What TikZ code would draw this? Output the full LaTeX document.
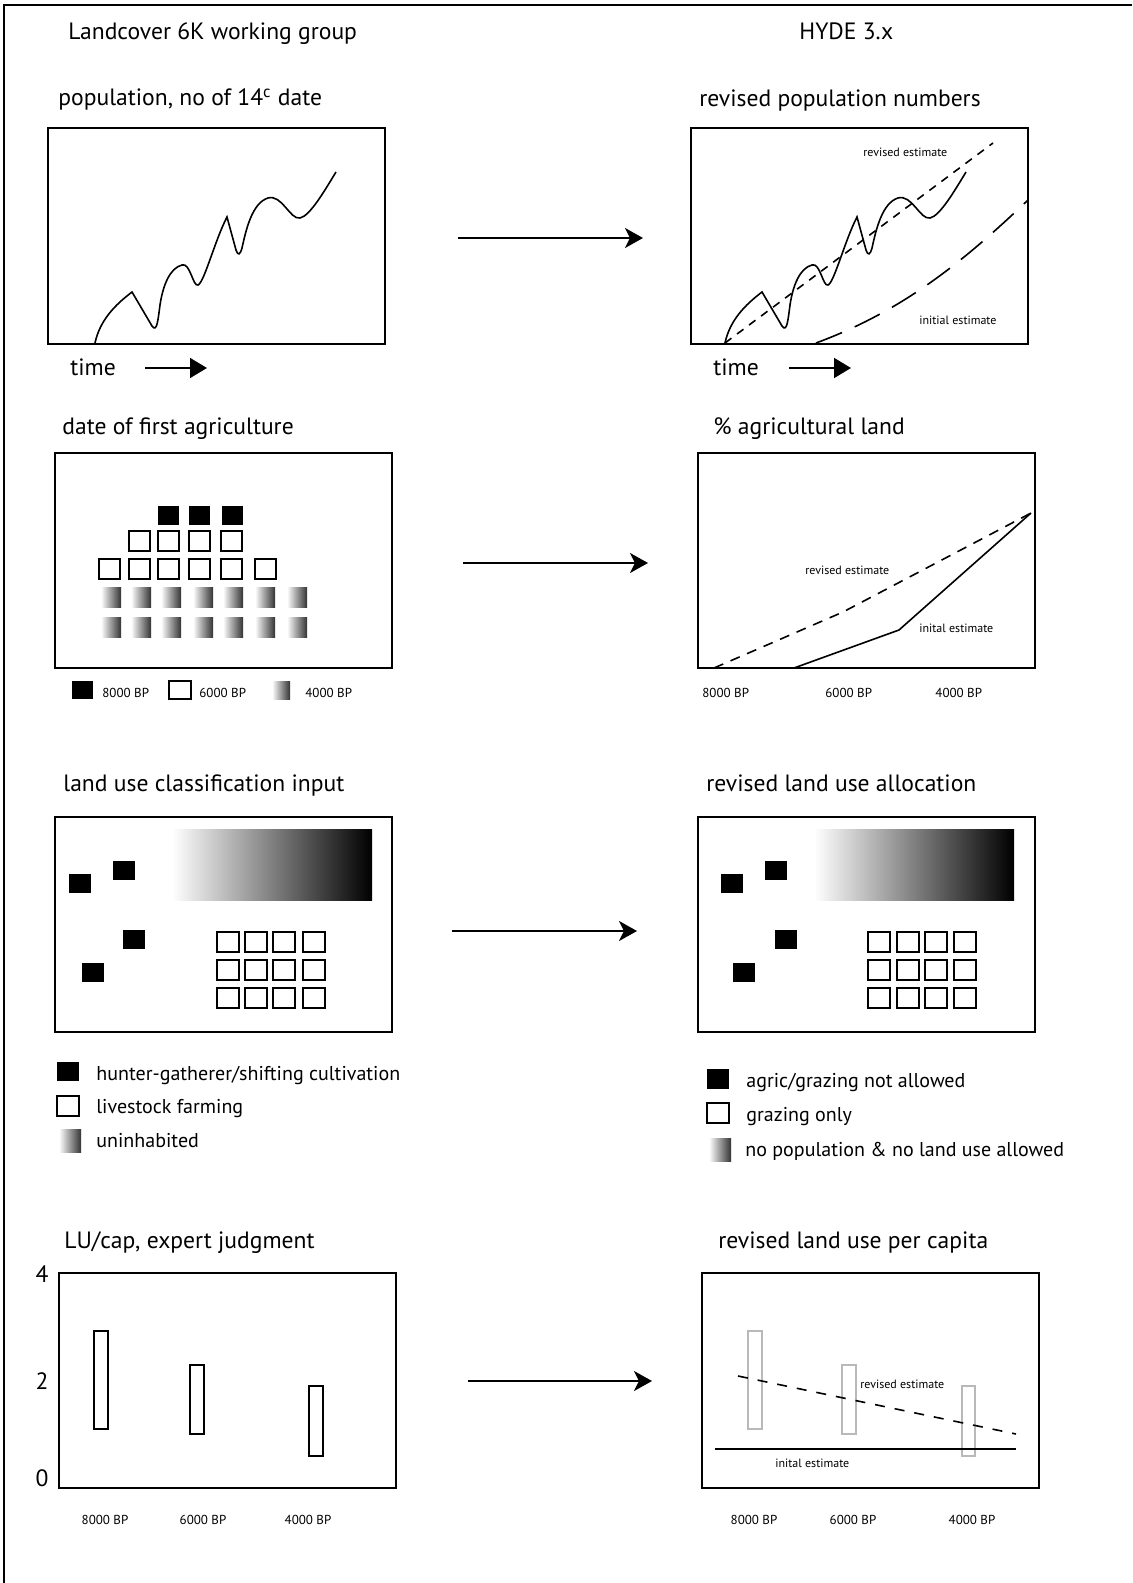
\documentclass[tikz,border=0pt]{standalone}
\usepackage{fontspec}
\setmainfont{PT Sans}
\usetikzlibrary{arrows.meta}

\tikzset{
  panel/.style={line width=1pt},
  popline/.style={line width=0.8pt},
  ttl/.style={anchor=base west, inner sep=0pt, font=\fontsize{11.8}{13}\selectfont},
  leg/.style={anchor=base west, inner sep=0pt, font=\fontsize{10}{12}\selectfont},
  note/.style={anchor=base west, inner sep=0pt, font=\fontsize{6}{7}\selectfont},
  bp/.style={anchor=base, inner sep=0pt, font=\fontsize{6.5}{8}\selectfont},
  big/.style={line width=1pt, -{Stealth[length=9pt,width=10pt,inset=2.5pt]}},
  timearrow/.style={line width=0.8pt, -{Triangle[length=8.5pt,width=10pt]}},
  blk/.style={fill=black},
  opn/.style={draw=black, line width=0.9pt},
  grad/.style={left color=white, right color=black!80},
  popcurve/.pic={
    \draw[popline] (95,343) .. controls (100,320) and (115,305) .. (132,292)
      -- (152,326) .. controls (157,333) and (158,320) .. (160,305)
      .. controls (163,285) and (170,268) .. (182,265)
      .. controls (190,262) and (193,287) .. (198,285)
      .. controls (204,283) and (215,240) .. (227,217)
      -- (236,250) .. controls (238,256) and (240,255) .. (242,248)
      .. controls (246,230) and (252,203) .. (268,198)
      .. controls (282,194) and (290,220) .. (300,218)
      .. controls (310,216) and (325,190) .. (336,172);
  }
}

\begin{document}
\begin{tikzpicture}[x=0.5pt,y=-0.5pt]
  \useasboundingbox (0,0) rectangle (1132,1583);
  \draw[line width=1.2pt] (4,1583) -- (4,5) -- (1132,5);

  \node[ttl] (lc) at (68,40) {Landcover 6K working group};
  \node[ttl] (hyde) at (799,40) {HYDE 3.x};

  % population
  \node[ttl] (pop) at (58,106) {population, no of 14\textsuperscript{c} date};
  \draw[panel] (48,128) rectangle (385,344);
  \pic at (0,0) {popcurve};
  \node[ttl] (time1) at (70,375) {time};
  \coordinate (t1a) at (145,368);
  \coordinate (t1b) at (207,368);
  \draw[timearrow] (t1a) -- (t1b);

  \coordinate (a1s) at (458,238);
  \coordinate (a1e) at (643,238);
  \draw[big] (a1s) -- (a1e);

  \node[ttl] (revpop) at (699,107) {revised population numbers};
  \draw[panel] (691,128) rectangle (1028,344);
  \pic at (630,0) {popcurve};
  \draw[popline, dash pattern=on 4pt off 3.5pt] (725,343) -- (993,143);
  \draw[popline, dash pattern=on 14pt off 7pt] (816,343) .. controls (900,312) and (960,265) .. (1028,200);
  \node[note] (rev1) at (863,157) {revised estimate};
  \node[note] (ini1) at (919,325) {initial estimate};
  \node[ttl] (time2) at (713,375) {time};
  \coordinate (t2a) at (789,368);
  \coordinate (t2b) at (851,368);
  \draw[timearrow] (t2a) -- (t2b);

  % first agriculture
  \node[ttl] (agri) at (62,434) {date of first agriculture};
  \draw[panel] (55,453) rectangle (392,668);
  \foreach \x in {158,189,222}
    \fill[blk] (\x,506) rectangle ++(21,19);
  \foreach \x in {129,158,189,221}
    \draw[opn] (\x,531) rectangle ++(21,20);
  \foreach \x in {99,129,158,189,221,255}
    \draw[opn] (\x,559) rectangle ++(21,20);
  \foreach \x in {101,131,161,193,223,255,287} {
    \shade[grad] (\x,587) rectangle ++(20,20);
    \shade[grad] (\x,617) rectangle ++(20,20);
  }
  \fill[blk] (72,681) rectangle (93,699);
  \node[bp, anchor=base west] (k8) at (102,697) {8000 BP};
  \draw[opn] (169,681) rectangle (191,699);
  \node[bp, anchor=base west] (k6) at (199,697) {6000 BP};
  \shade[grad] (272,681) rectangle (290,699);
  \node[bp, anchor=base west] (k4) at (305,697) {4000 BP};

  \coordinate (a2s) at (463,563);
  \coordinate (a2e) at (648,563);
  \draw[big] (a2s) -- (a2e);

  \node[ttl] (pct) at (713,434) {\% agricultural land};
  \draw[panel] (698,453) rectangle (1035,668);
  \draw[popline, dash pattern=on 5pt off 4pt] (714,668) -- (843,612) -- (1031,513);
  \draw[popline] (794,668) -- (899,630) -- (1031,513);
  \node[note] (rev2) at (805,574) {revised estimate};
  \node[note] (ini2) at (919,632) {inital estimate};
  \node[bp, anchor=base west] (x8a) at (702,697) {8000 BP};
  \node[bp, anchor=base west] (x6a) at (825,697) {6000 BP};
  \node[bp, anchor=base west] (x4a) at (935,697) {4000 BP};

  % land use classes
  \node[ttl] (cls) at (63,791) {land use classification input};
  \draw[panel] (55,817) rectangle (392,1032);
  \shade[left color=white, right color=black] (172,829) rectangle (372,900);
  \foreach \x/\y in {69/874,113/861,123/930,82/963}
    \fill[blk] (\x,\y) rectangle ++(22,19);
  \foreach \x in {217,245,273,303}
    \foreach \y in {932,960,988}
      \draw[opn] (\x,\y) rectangle ++(22,20);
  \fill[blk] (57,1062) rectangle (79,1081);
  \node[leg] (hg) at (96,1080) {hunter-gatherer/shifting cultivation};
  \draw[opn] (57,1096) rectangle (79,1116);
  \node[leg] (lf) at (96,1113) {livestock farming};
  \shade[grad] (59,1129) rectangle (81,1152);
  \node[leg] (un) at (96,1147) {uninhabited};

  \coordinate (a3s) at (452,931);
  \coordinate (a3e) at (637,931);
  \draw[big] (a3s) -- (a3e);

  \node[ttl] (alloc) at (706,791) {revised land use allocation};
  \draw[panel] (698,817) rectangle (1035,1032);
  \shade[left color=white, right color=black] (814,829) rectangle (1014,900);
  \foreach \x/\y in {721/874,765/861,775/930,733/963}
    \fill[blk] (\x,\y) rectangle ++(22,19);
  \foreach \x in {868,897,925,954}
    \foreach \y in {932,960,988}
      \draw[opn] (\x,\y) rectangle ++(22,20);
  \fill[blk] (707,1069) rectangle (729,1089);
  \node[leg] (na) at (746,1087) {agric/grazing not allowed};
  \draw[opn] (707,1103) rectangle (729,1123);
  \node[leg] (go) at (746,1121) {grazing only};
  \shade[grad] (709,1138) rectangle (731,1161);
  \node[leg] (np) at (745,1156) {no population \& no land use allowed};

  % land use per capita
  \node[ttl] (lucap) at (64,1248) {LU/cap, expert judgment};
  \draw[panel] (59,1273) rectangle (396,1488);
  \node[ttl, anchor=base] (y4) at (42,1282) {4};
  \node[ttl, anchor=base] (y2) at (42,1389) {2};
  \node[ttl, anchor=base] (y0) at (42,1486) {0};
  \draw[opn, line width=0.8pt] (94,1331) rectangle (108,1429);
  \draw[opn, line width=0.8pt] (190,1365) rectangle (204,1434);
  \draw[opn, line width=0.8pt] (309,1386) rectangle (323,1456);
  \node[bp] (x8b) at (105,1524) {8000 BP};
  \node[bp] (x6b) at (203,1524) {6000 BP};
  \node[bp] (x4b) at (308,1524) {4000 BP};

  \coordinate (a4s) at (468,1381);
  \coordinate (a4e) at (652,1381);
  \draw[big] (a4s) -- (a4e);

  \node[ttl] (revcap) at (718,1248) {revised land use per capita};
  \draw[panel] (702,1273) rectangle (1039,1488);
  \draw[gray!55, line width=0.8pt] (748,1331) rectangle (762,1429);
  \draw[gray!55, line width=0.8pt] (842,1365) rectangle (856,1434);
  \draw[gray!55, line width=0.8pt] (962,1386) rectangle (975,1456);
  \draw[popline, dash pattern=on 5pt off 5pt] (738,1376) -- (1016,1434);
  \draw[popline] (715,1449) -- (1016,1449);
  \node[note] (rev4) at (860,1388) {revised estimate};
  \node[note] (ini4) at (775,1467) {inital estimate};
  \node[bp] (x8c) at (754,1524) {8000 BP};
  \node[bp] (x6c) at (853,1524) {6000 BP};
  \node[bp] (x4c) at (972,1524) {4000 BP};
\end{tikzpicture}
\end{document}
